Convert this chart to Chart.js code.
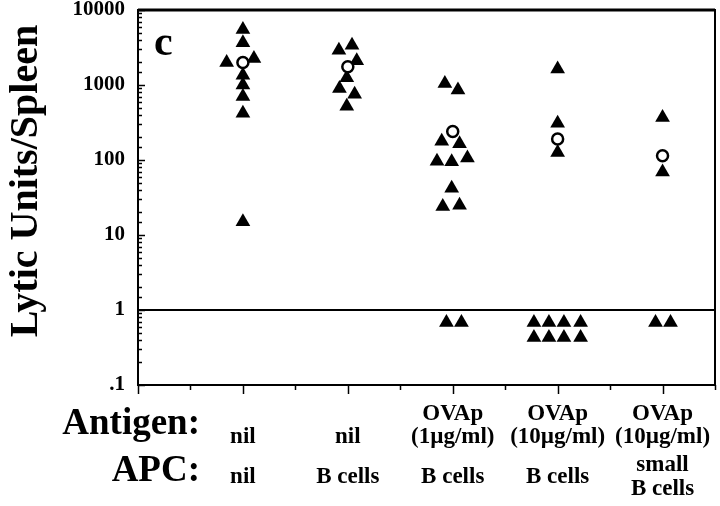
<!DOCTYPE html>
<html>
<head>
<meta charset="utf-8">
<script src="https://cdn.jsdelivr.net/npm/chart.js"></script>
<style>
html,body{margin:0;padding:0;background:#fff;}
</style>
</head>
<body>
<canvas id="lyticChart" width="720" height="506"></canvas>
<script>
// groups along the x axis (1..5), rows of labels under the plot
var groups = [1, 2, 3, 4, 5];
var antigenLabels = [['nil'], ['nil'], ['OVAp', '(1\u00b5g/ml)'], ['OVAp', '(10\u00b5g/ml)'], ['OVAp', '(10\u00b5g/ml)']];
var apcLabels = [['nil'], ['B cells'], ['B cells'], ['B cells'], ['small', 'B cells']];
var yTickLabels = ['.1', '1', '10', '100', '1000', '10000'];

// individual mice (filled triangles), x = group + jitter
var g1X = [1, 1, 0.845, 1.105, 1, 1, 1, 1, 1];
var g1Y = [5500, 3650, 2000, 2250, 1350, 1000, 700, 420, 15];
var g2X = [1.915, 2.04, 2.085, 1.99, 1.92, 2.065, 1.99];
var g2Y = [2900, 3400, 2100, 1250, 900, 750, 520];
var g3X = [2.925, 3.05, 2.895, 3.065, 2.85, 2.99, 3.14, 2.99, 2.905, 3.065, 2.94, 3.083];
var g3Y = [1050, 860, 178, 165, 96, 95, 106, 42, 24, 25, 0.68, 0.68];
var g4X = [4, 4, 4, 3.774, 3.917, 4.06, 4.219, 3.774, 3.917, 4.06, 4.219];
var g4Y = [1630, 310, 126, 0.68, 0.68, 0.68, 0.68, 0.43, 0.43, 0.43, 0.43];
var g5X = [5, 5, 4.933, 5.076];
var g5Y = [370, 69, 0.68, 0.68];

// group means (open circles)
var meanY = [2000, 1750, 240, 190, 114];

var serif = "'Liberation Serif', 'Times New Roman', serif";

function pts(xs, ys) {
  return xs.map(function(x, i){ return {x: x, y: ys[i]}; });
}
var mice = [].concat(pts(g1X, g1Y), pts(g2X, g2Y), pts(g3X, g3Y), pts(g4X, g4Y), pts(g5X, g5Y));
var means = pts(groups, meanY);

function isDecade(v) {
  var l = Math.log10(v);
  return Math.abs(l - Math.round(l)) < 1e-6;
}

var framePlugin = {
  id: 'frame',
  afterDraw: function(chart) {
    var c = chart.ctx, a = chart.chartArea;
    var xs = chart.scales.x, ys = chart.scales.y;
    c.save();
    c.strokeStyle = '#000';
    // box
    c.lineWidth = 2;
    c.strokeRect(a.left, a.top, a.right - a.left, a.bottom - a.top);
    c.beginPath(); c.lineWidth = 3;
    c.moveTo(a.left, a.top); c.lineTo(a.right, a.top); c.stroke();
    // line at 1
    var y1 = ys.getPixelForValue(1);
    c.beginPath(); c.lineWidth = 2;
    c.moveTo(a.left, y1); c.lineTo(a.right, y1); c.stroke();
    // y ticks (inside)
    c.lineWidth = 1.5;
    ys.ticks.forEach(function(t){
      var y = Math.round(ys.getPixelForValue(t.value)) + 0.5;
      var len = isDecade(t.value) ? 7 : 4;
      c.beginPath(); c.moveTo(a.left, y); c.lineTo(a.left + len, y); c.stroke();
    });
    // x ticks (outside)
    xs.ticks.forEach(function(t){
      var x = Math.round(xs.getPixelForValue(t.value)) + 0.5;
      var len = Math.abs(t.value - Math.round(t.value)) < 1e-6 ? 9 : 5;
      c.beginPath(); c.moveTo(x, a.bottom); c.lineTo(x, a.bottom + len); c.stroke();
    });
    c.fillStyle = '#000';
    // panel letter
    c.font = 'bold 42px ' + serif;
    c.textAlign = 'left'; c.textBaseline = 'alphabetic';
    c.fillText('c', a.left + 16, a.top + 45);
    // y title
    c.save();
    c.translate(37, 181);
    c.rotate(-Math.PI / 2);
    c.font = 'bold 40px ' + serif;
    c.textAlign = 'center';
    c.fillText('Lytic Units/Spleen', 0, 0);
    c.restore();
    // row headers
    c.font = 'bold 37px ' + serif;
    c.textAlign = 'right';
    c.fillText('Antigen:', 200, 434);
    c.fillText('APC:', 200, 481);
    // column labels
    c.font = 'bold 23px ' + serif;
    c.textAlign = 'center';
    groups.forEach(function(g, i){
      var x = xs.getPixelForValue(g);
      var al = antigenLabels[i];
      al.forEach(function(s, k){
        c.fillText(s, x, 443 - (al.length - 1 - k) * 23);
      });
      var pl = apcLabels[i];
      pl.forEach(function(s, k){
        c.fillText(s, x, 483 + (k - (pl.length - 1) / 2) * 24);
      });
    });
    c.restore();
  }
};

new Chart(document.getElementById('lyticChart').getContext('2d'), {
  type: 'scatter',
  data: {
    datasets: [
      { data: means, pointStyle: 'circle', pointRadius: 5.5, backgroundColor: '#fff', borderColor: '#000', borderWidth: 2.5 },
      { data: mice, pointStyle: 'triangle', pointRadius: 8.5, backgroundColor: '#000', borderColor: '#000', borderWidth: 0 }
    ]
  },
  options: {
    responsive: false,
    animation: false,
    layout: { autoPadding: false, padding: { top: 10, right: 5, left: 0, bottom: 0 } },
    plugins: { legend: { display: false }, tooltip: { enabled: false } },
    scales: {
      x: {
        type: 'linear', min: 0, max: 5.5,
        ticks: { display: false, stepSize: 0.5 },
        grid: { display: false, drawTicks: false },
        border: { display: false },
        afterFit: function(s){ s.height = 121; s.paddingLeft = 0; s.paddingRight = 0; }
      },
      y: {
        type: 'logarithmic', min: 0.1, max: 10000,
        ticks: {
          autoSkip: false, padding: 13, color: '#000',
          font: { family: serif, weight: 'bold', size: 21 },
          callback: function(v){
            if (!isDecade(v)) return '';
            return yTickLabels[Math.round(Math.log10(v)) + 1];
          }
        },
        grid: { display: false, drawTicks: false },
        border: { display: false },
        afterFit: function(s){ s.width = 138; s.paddingTop = 0; s.paddingBottom = 0; }
      }
    }
  },
  plugins: [framePlugin]
});
</script>
</body>
</html>
